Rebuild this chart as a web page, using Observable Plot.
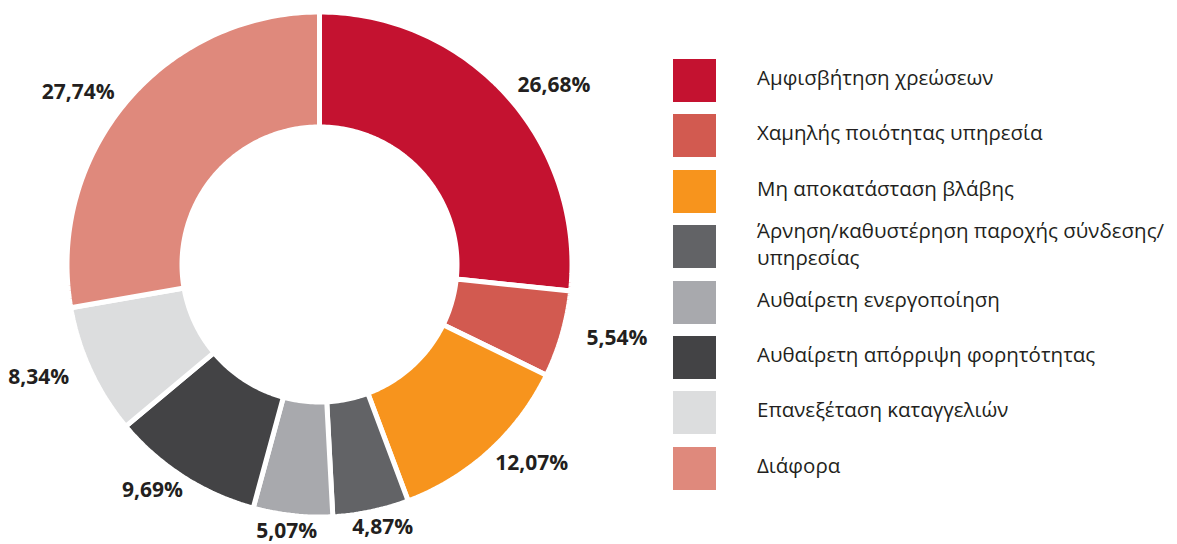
<!DOCTYPE html>
<html><head><meta charset="utf-8">
<script src="https://cdn.jsdelivr.net/npm/d3@7"></script>
<script src="https://cdn.jsdelivr.net/npm/@observablehq/plot@0.6"></script>
<style>
body{margin:0;background:#fff;font-family:"Open Sans",sans-serif;}
#wrap{position:relative;width:1177px;height:544px;overflow:hidden;}
#legend{position:absolute;left:673px;top:59px;}
.row{display:flex;align-items:center;height:43px;margin-bottom:12.4px;}
.sw{width:43px;height:43px;flex:none;}
.lab{margin-left:41px;font-size:20.5px;color:#231f20;line-height:27px;white-space:pre-line;position:relative;top:-3px;}
</style></head><body><div id="wrap"><div id="legend"></div></div>
<script>
const categories = [
  "Αμφισβήτηση χρεώσεων",
  "Χαμηλής ποιότητας υπηρεσία",
  "Μη αποκατάσταση βλάβης",
  "Άρνηση/καθυστέρηση παροχής σύνδεσης/\nυπηρεσίας",
  "Αυθαίρετη ενεργοποίηση",
  "Αυθαίρετη απόρριψη φορητότητας",
  "Επανεξέταση καταγγελιών",
  "Διάφορα"
];
const values = [26.68, 5.54, 12.07, 4.87, 5.07, 9.69, 8.34, 27.74];
const colors = ["#C41230", "#D25A50", "#F7941D", "#626366", "#A8A9AD", "#434345", "#DCDDDE", "#DF897C"];

const S = 252.5;          // px per data unit
const cx = 319, cy = 264; // ring centre in px
const inner = 137.5 / S;
const total = d3.sum(values);

const ring = [];
const labels = [];
let acc = 0;
values.forEach((v, i) => {
  const a0 = acc / total * 2 * Math.PI;
  acc += v;
  const a1 = acc / total * 2 * Math.PI;
  const n = Math.max(2, Math.ceil((a1 - a0) / (Math.PI / 180)));
  const pts = [];
  for (let k = 0; k <= n; k++) {
    const a = a0 + (a1 - a0) * k / n;
    pts.push({cat: categories[i], x: Math.sin(a), y: Math.cos(a)});
  }
  for (let k = n; k >= 0; k--) {
    const a = a0 + (a1 - a0) * k / n;
    pts.push({cat: categories[i], x: inner * Math.sin(a), y: inner * Math.cos(a)});
  }
  pts.push({...pts[0]});
  ring.push(...pts);
  const m = (a0 + a1) / 2;
  const txt = d3.format(".2f")(v).replace(".", ",") + "%";
  const w = txt.length * 11.8, h = 20, rx = 280, ry = 258;
  labels.push({
    text: txt,
    x: (rx * Math.sin(m) + Math.sin(m) * w / 2) / S,
    y: (ry * Math.cos(m) + Math.cos(m) * h / 2) / S
  });
});

const chart = Plot.plot({
  width: 1177,
  height: 544,
  margin: 0,
  x: {domain: [-1, 1], range: [cx - S, cx + S], axis: null},
  y: {domain: [-1, 1], range: [cy + S, cy - S], axis: null},
  color: {domain: categories, range: colors},
  style: {background: "transparent", fontFamily: "'Open Sans', sans-serif"},
  marks: [
    Plot.line(ring, {x: "x", y: "y", z: "cat", fill: "cat", stroke: "white", strokeWidth: 5, strokeLinejoin: "miter", curve: "linear"}),
    Plot.text(labels, {x: "x", y: "y", text: "text", fontSize: 21, fontWeight: "bold", fill: "#231f20"})
  ]
});
const wrap = document.getElementById("wrap");
wrap.insertBefore(chart, wrap.firstChild);

const legend = d3.select("#legend");
categories.forEach((c, i) => {
  const row = legend.append("div").attr("class", "row");
  row.append("div").attr("class", "sw").style("background", colors[i]);
  row.append("div").attr("class", "lab").text(c);
});
</script>
</body></html>
